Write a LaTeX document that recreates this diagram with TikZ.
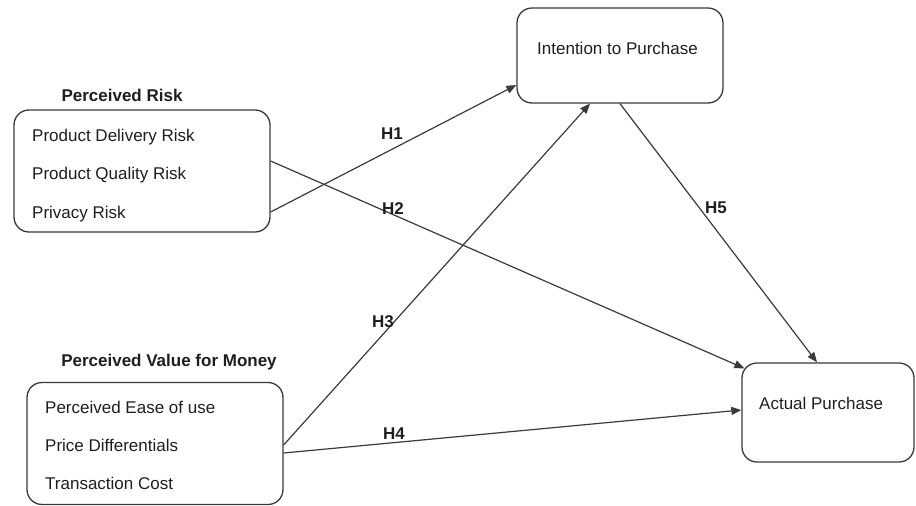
\documentclass[tikz,border=0pt]{standalone}
\usepackage{fontspec}
\setmainfont{Liberation Sans}
\usetikzlibrary{arrows.meta}
\definecolor{linec}{HTML}{3A3A3A}
\definecolor{textc}{HTML}{1E1E1E}
\tikzset{
  box/.style={draw=linec, line width=1.3pt, rounded corners=15pt, inner sep=0pt},
  itemtext/.style={anchor=base west, inner sep=0pt, text=textc, font=\fontsize{17}{20}\selectfont},
  titletext/.style={anchor=base, inner sep=0pt, text=textc, font=\fontsize{17}{20}\selectfont\bfseries},
  hlabel/.style={anchor=base, inner sep=0pt, text=textc, font=\fontsize{17}{20}\selectfont\bfseries},
  conn/.style={draw=linec, line width=1.2pt, -{Triangle[length=10pt,width=8pt]}},
}
\begin{document}
\begin{tikzpicture}[x=1pt,y=-1pt]
\useasboundingbox (0,0) rectangle (916,506);
% boxes
\node[box, minimum width=256pt, minimum height=122pt] (risk) at (142,171) {};
\node[box, minimum width=256pt, minimum height=122pt] (pvm) at (155,443.5) {};
\node[box, minimum width=206pt, minimum height=95pt] (intent) at (620,55.5) {};
\node[box, minimum width=172pt, minimum height=99pt] (actual) at (828,412.5) {};
% titles
\node[titletext] (trisk) at (122,101) {Perceived Risk};
\node[titletext] (tpvm) at (169,366) {Perceived Value for Money};
% items
\node[itemtext] (r1) at (32,141) {Product Delivery Risk};
\node[itemtext] (r2) at (32,179) {Product Quality Risk};
\node[itemtext] (r3) at (32,218) {Privacy Risk};
\node[itemtext] (v1) at (45,413) {Perceived Ease of use};
\node[itemtext] (v2) at (45,451) {Price Differentials};
\node[itemtext] (v3) at (45,489) {Transaction Cost};
\node[itemtext] (ti) at (537,54) {Intention to Purchase};
\node[itemtext] (ta) at (759,409) {Actual Purchase};
% connectors
\draw[conn] ([yshift=-41pt]risk.east) -- ([yshift=-29.5pt]intent.west);
\draw[conn] ([yshift=10pt]risk.east) -- ([xshift=3pt,yshift=-6pt]actual.north west);
\draw[conn] ([yshift=-1.5pt]pvm.east) -- ([xshift=-30pt]intent.south);
\draw[conn] ([yshift=-9.5pt]pvm.east) -- ([yshift=2.5pt]actual.west);
\draw[conn] (intent.south) -- ([xshift=-11pt]actual.north);
% labels
\node[hlabel] (h1) at (392,139) {H1};
\node[hlabel] (h2) at (393,214) {H2};
\node[hlabel] (h3) at (383,327) {H3};
\node[hlabel] (h4) at (394,439) {H4};
\node[hlabel] (h5) at (716,213) {H5};
\end{tikzpicture}
\end{document}
